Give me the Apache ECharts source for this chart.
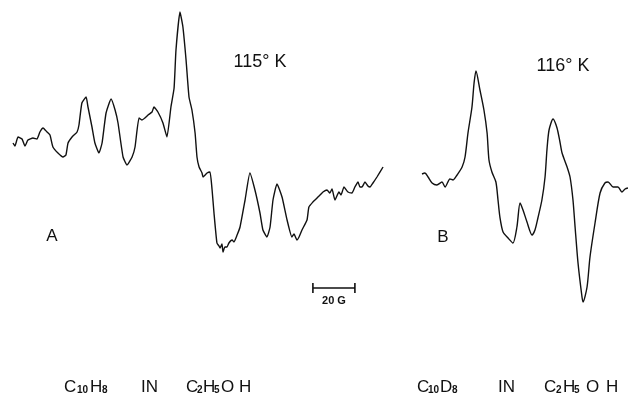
<!DOCTYPE html>
<html><head><meta charset="utf-8">
<script src="https://cdn.jsdelivr.net/npm/echarts@6/dist/echarts.min.js"></script>
<style>html,body{margin:0;padding:0;background:#fff}#c{width:628px;height:400px}</style>
</head><body><div id="c"></div>
<script>
// Spectrum A: C10H8 in C2H5OH, 115 K  (field in G, derivative amplitude, arb. units)
const fieldA = [6.2,7.1,8.6,10.5,11.9,13.3,15.7,17.6,19.0,20.5,22.4,23.8,25.2,27.6,30.0,31.4,32.4,34.3,36.7,37.6,39.0,41.0,41.9,43.8,45.2,47.1,48.6,50.5,52.9,54.8,56.2,58.6,60.5,62.9,64.3,66.2,67.6,69.0,70.5,72.4,73.3,75.2,77.6,79.5,81.4,82.9,83.8,85.7,87.1,88.6,90.0,91.4,92.9,93.8,94.8,96.2,96.7,98.6,100.0,101.0,101.9,103.3,104.3,104.8,105.7,106.2,107.1,108.1,109.0,110.5,111.4,112.9,114.3,116.7,119.0,121.4,123.8,125.2,127.1,128.6,130.0,131.9,134.3,136.7,139.0,140.0,141.4,142.4,143.8,146.2,147.1,149.0,150.5,151.4,152.4,153.8,155.7,157.1,158.1,159.5,161.4,162.4,163.8,165.7,167.6,169.0,170.5,171.4,172.4,173.8,175.2,176.2,177.6,179.5,182.4];
const signalA = [7,4,13,11,4,10,12,11,18,22,18,15,3,-3,-7,-5,7,13,18,25,47,53,43,23,7,-3,7,37,51,40,27,-7,-15,-7,3,32,30,32,35,38,43,38,27,13,43,62,100,138,123,90,53,40,17,-7,-17,-23,-27,-23,-22,-40,-63,-93,-96,-98,-94,-102,-97,-97,-93,-90,-92,-85,-77,-50,-23,-40,-63,-80,-87,-77,-50,-34,-47,-70,-87,-84,-90,-87,-80,-70,-57,-52,-49,-47,-45,-42,-40,-43,-39,-50,-42,-45,-37,-42,-43,-37,-32,-37,-37,-32,-36,-37,-33,-27,-17];
// Spectrum B: C10D8 in C2H5OH, 116 K
const fieldB = [1.9,3.3,4.8,6.7,9.0,11.4,12.9,15.2,16.7,18.6,21.0,22.4,23.8,25.7,26.7,27.6,29.5,31.4,32.9,33.8,35.2,37.1,38.1,39.0,40.5,42.9,45.2,47.1,48.6,50.0,51.9,54.3,55.7,57.1,59.0,60.5,61.4,62.4,64.3,66.2,67.6,68.6,71.0,72.4,73.8,74.8,76.2,78.1,78.6,80.5,81.9,84.3,86.7,89.0,90.5,92.9,95.2,97.1,98.6,100.0];
const signalB = [-24,-23,-27,-33,-35,-32,-37,-29,-30,-25,-17,-7,17,43,67,79,60,40,17,-10,-22,-32,-50,-67,-82,-88,-93,-77,-53,-60,-72,-85,-80,-68,-50,-27,0,20,31,22,8,-3,-17,-27,-50,-77,-113,-147,-152,-137,-107,-73,-43,-33,-32,-37,-37,-42,-39,-38];
// 20 G scale bar (drawn in frame A)
const barField = [149, 169];
const barLevel = -138;
const barTick = 5;
const labels = { tempA: '115° K', tempB: '116° K', panelA: 'A', panelB: 'B', bar: '20 G' };
// Captions: [text, subscript?]
const captionA = [['C',0],['10',1],['H',0],['8',1],['IN',0],['C',0],['2',1],['H',0],['5',1],['O',0],['H',0]];
const captionB = [['C',0],['10',1],['D',0],['8',1],['IN',0],['C',0],['2',1],['H',0],['5',1],['O',0],['H',0]];

// layout (pixel left edges of caption pieces)
const capPosA = [64,77,90,102,141,186,197,203,214,221,239];
const capPosB = [417,428,440,452,498,544,556,563,574,586,606];

const zip = (xs, ys) => xs.map((x, i) => [x, ys[i]]);
const barData = [
  [barField[0], barLevel + barTick], [barField[0], barLevel - barTick], [barField[0], '-'],
  [barField[0], barLevel], [barField[1], barLevel], [barField[1], '-'],
  [barField[1], barLevel + barTick], [barField[1], barLevel - barTick]
];
const font = 'Liberation Sans, Arial, sans-serif';
const ink = '#111';
const chart = echarts.init(document.getElementById('c'), null, { renderer: 'canvas' });
const axX = (i, max) => ({ type: 'value', gridIndex: i, min: 0, max: max, show: false });
const axY = (i) => ({ type: 'value', gridIndex: i, min: -250, max: 150, show: false });
const lineS = (i, data, w, sm) => ({
  type: 'line', xAxisIndex: i, yAxisIndex: i, data: data, symbol: 'none', smooth: sm,
  lineStyle: { color: ink, width: w }, silent: true, animation: false, connectNulls: false
});
const caption = (pieces, pos) => pieces.map((p, i) => ({
  type: 'text', x: pos[i], y: p[1] ? 390 : 387,
  style: { text: p[0], fontSize: p[1] ? 10 : 17, fontWeight: p[1] ? 'bold' : 'normal',
           fontFamily: font, fill: ink, align: 'left', verticalAlign: 'middle' }
}));
const txt = (t, x, y, size, extra) => Object.assign({ type: 'text', x: x, y: y,
  style: Object.assign({ text: t, fontSize: size, fontFamily: font, fill: ink, align: 'center', verticalAlign: 'middle' }, extra || {}) });
chart.setOption({
  animation: false,
  backgroundColor: '#fff',
  grid: [
    { left: 0, top: 0, width: 420, height: 400 },
    { left: 418, top: 0, width: 210, height: 400 }
  ],
  xAxis: [axX(0, 200), axX(1, 100)],
  yAxis: [axY(0), axY(1)],
  series: [
    lineS(0, zip(fieldA, signalA), 1.4, 0.15),
    lineS(1, zip(fieldB, signalB), 1.4, 0.25),
    lineS(0, barData, 1.6, false)
  ],
  graphic: [
    txt(labels.tempA, 260, 62, 18),
    txt(labels.tempB, 563, 66, 18),
    txt(labels.panelA, 52, 236, 17),
    txt(labels.panelB, 443, 237, 17),
    txt(labels.bar, 334, 301, 11, { fontWeight: 'bold' })
  ].concat(caption(captionA, capPosA), caption(captionB, capPosB))
});
</script></body></html>
